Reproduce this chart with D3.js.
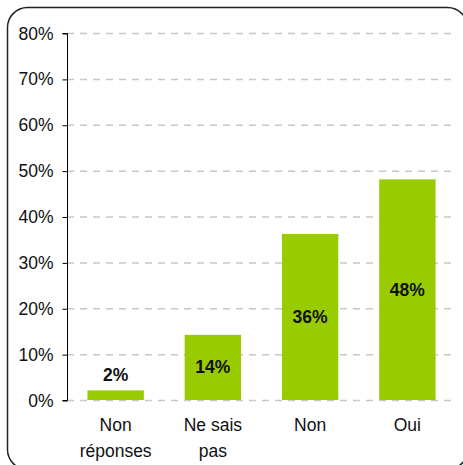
<!doctype html>
<html>
<head>
<script src="https://d3js.org/d3.v7.min.js"></script>
<style>
body { margin: 0; background: #fff; }
text { font-family: "Liberation Sans", Arial, sans-serif; }
</style>
</head>
<body>
<script>
var width = 463;
var height = 465;

// data
var categories = [["Non", "réponses"], ["Ne sais", "pas"], ["Non"], ["Oui"]];
var values = [2.1, 14.2, 36.2, 48.1];
var ticks = [0, 10, 20, 30, 40, 50, 60, 70, 80];

var svg = d3.select("body").append("svg")
    .attr("width", width)
    .attr("height", height);

// rounded frame running off the right/bottom edge
svg.append("rect")
    .attr("x", 7.5).attr("y", 7.5)
    .attr("width", 460).attr("height", 462)
    .attr("rx", 20).attr("ry", 20)
    .attr("fill", "none")
    .attr("stroke", "#222")
    .attr("stroke-width", 1.5);

var x = d3.scaleBand()
    .domain(d3.range(categories.length))
    .range([67, 456])
    .paddingInner(0.42)
    .paddingOuter(0.21);

var y = d3.scaleLinear()
    .domain([0, 80])
    .range([400, 33]);

// gridlines
svg.append("g").selectAll("line")
    .data(ticks)
    .enter().append("line")
    .attr("x1", 67).attr("x2", 457)
    .attr("y1", function (d) { return y(d) + 0.5; })
    .attr("y2", function (d) { return y(d) + 0.5; })
    .attr("stroke", "#c8c8c8")
    .attr("stroke-width", 1.5)
    .attr("stroke-dasharray", "7,6");

// y axis
var yAxis = d3.axisLeft(y)
    .tickValues(ticks)
    .tickFormat(function (d) { return d + "%"; })
    .tickSize(5)
    .tickPadding(9);

var ga = svg.append("g")
    .attr("transform", "translate(67.5,0.5)")
    .call(yAxis);
ga.select(".domain").attr("d", "M-5," + y(80) + "H0V" + y(0) + "H-5").attr("stroke", "#000");
ga.selectAll(".tick line").attr("stroke", "#000");
ga.selectAll(".tick text")
    .attr("font-size", 17.5)
    .attr("fill", "#111");

// bars
svg.append("g").selectAll("rect")
    .data(values)
    .enter().append("rect")
    .attr("x", function (d, i) { return x(i); })
    .attr("y", function (d) { return y(d); })
    .attr("width", x.bandwidth())
    .attr("height", function (d) { return y(0) - y(d); })
    .attr("fill", "#99cc00");

// value labels
svg.append("g").selectAll("text")
    .data(values)
    .enter().append("text")
    .attr("x", function (d, i) { return x(i) + x.bandwidth() / 2; })
    .attr("y", function (d) {
        return d < 5 ? y(d) - 9 : (y(d) + y(0)) / 2 + 6;
    })
    .attr("text-anchor", "middle")
    .attr("font-size", 17.5)
    .attr("font-weight", "bold")
    .attr("fill", "#111")
    .text(function (d) { return Math.round(d) + "%"; });

// category labels
var cl = svg.append("g").selectAll("text")
    .data(categories)
    .enter().append("text")
    .attr("text-anchor", "middle")
    .attr("font-size", 17.5)
    .attr("fill", "#111");
cl.selectAll("tspan")
    .data(function (d, i) { return d.map(function (s) { return { s: s, i: i }; }); })
    .enter().append("tspan")
    .attr("x", function (d) { return x(d.i) + x.bandwidth() / 2; })
    .attr("y", function (d, j) { return 431 + j * 26; })
    .text(function (d) { return d.s; });
</script>
</body>
</html>
